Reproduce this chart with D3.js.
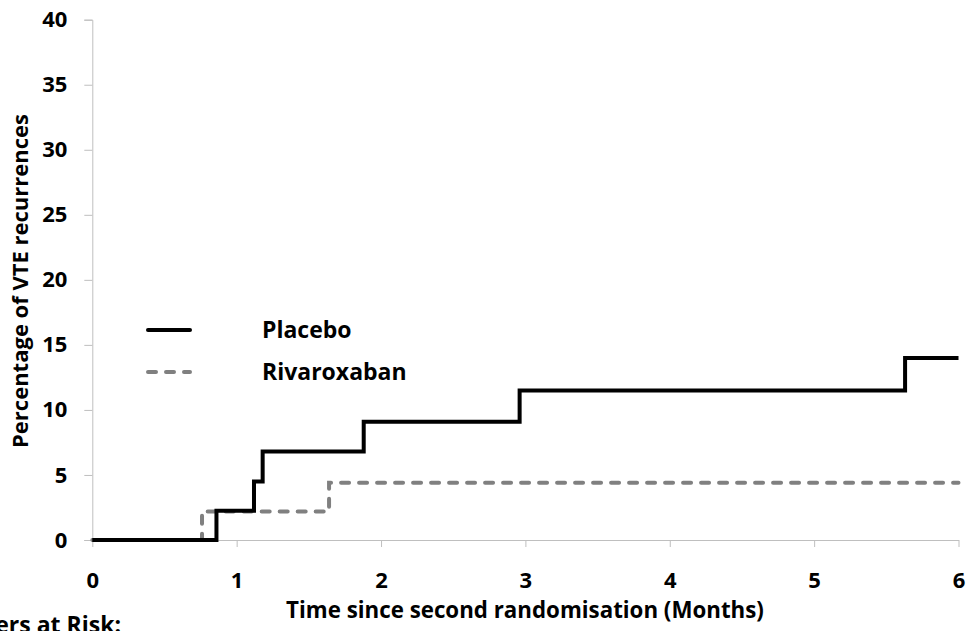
<!DOCTYPE html>
<html>
<head>
<meta charset="utf-8">
<script src="https://cdn.jsdelivr.net/npm/d3@7"></script>
<style>
  html, body { margin: 0; padding: 0; background: #fff; }
  svg { display: block; font-family: "Open Sans", Lato, sans-serif; font-weight: 700; }
</style>
</head>
<body>
<div id="chart"></div>
<script>
// step points: [month, percentage]
const placebo = [[0, 0], [0.86, 2.25], [1.12, 4.5], [1.18, 6.8], [1.88, 9.1], [2.96, 11.5], [5.63, 14.0], [6, 14.0]];
const rivaroxaban = [[0, 0], [0.76, 2.2], [1.64, 4.4], [6, 4.4]];
const xTicks = [0, 1, 2, 3, 4, 5, 6];
const yTicks = [0, 5, 10, 15, 20, 25, 30, 35, 40];
const seriesNames = ["Placebo", "Rivaroxaban"];

const width = 968, height = 631;
const axisColor = "#bfbfbf";
const font = "'Open Sans', Lato, sans-serif";

const svg = d3.select("#chart").append("svg")
    .attr("width", width)
    .attr("height", height);

const x = d3.scaleLinear().domain([0, 6]).range([92.3, 958.5]);
const y = d3.scaleLinear().domain([0, 40]).range([540, 19.7]);

function styleText(sel, size) {
    sel.attr("fill", "#000")
        .style("font-size", size + "px")
        .style("font-family", font)
        .style("font-weight", "700");
}

// y axis
const yAxis = svg.append("g")
    .attr("transform", `translate(${x(0)},0)`)
    .call(d3.axisLeft(y).tickValues(yTicks).tickSize(8).tickPadding(17));
yAxis.select(".domain").attr("stroke", axisColor);
yAxis.selectAll(".tick line").attr("stroke", axisColor);
styleText(yAxis.selectAll(".tick text"), 22);

// x axis
const xAxis = svg.append("g")
    .attr("transform", `translate(0,${y(0)})`)
    .call(d3.axisBottom(x).tickValues(xTicks).tickFormat(d3.format("d"))
        .tickSize(7).tickPadding(25).tickSizeOuter(0));
xAxis.select(".domain").attr("stroke", axisColor);
xAxis.selectAll(".tick line").attr("stroke", axisColor);
styleText(xAxis.selectAll(".tick text"), 22);

// axis titles
styleText(svg.append("text")
    .attr("x", 525).attr("y", 618)
    .attr("text-anchor", "middle")
    .text("Time since second randomisation (Months)"), 22.3);

styleText(svg.append("text")
    .attr("transform", "translate(28,281) rotate(-90)")
    .attr("text-anchor", "middle")
    .text("Percentage of VTE recurrences"), 22);

// partly outside the frame, as in the original
styleText(svg.append("text")
    .attr("x", 121).attr("y", 633)
    .attr("text-anchor", "end")
    .text("Numbers at Risk:"), 23);

// lines
const line = d3.line()
    .x(d => x(d[0]))
    .y(d => y(d[1]))
    .curve(d3.curveStepAfter);

svg.append("path")
    .datum(rivaroxaban)
    .attr("fill", "none")
    .attr("stroke", "#808080")
    .attr("stroke-width", 4)
    .attr("stroke-dasharray", "8,10")
    .attr("stroke-linecap", "round")
    .attr("d", line);

svg.append("path")
    .datum(placebo)
    .attr("fill", "none")
    .attr("stroke", "#000")
    .attr("stroke-width", 4)
    .attr("d", line);

// legend
const legend = svg.append("g");
const legendY = [330, 372];
seriesNames.forEach((name, i) => {
    legend.append("line")
        .attr("x1", 148).attr("x2", 190)
        .attr("y1", legendY[i]).attr("y2", legendY[i])
        .attr("stroke", i === 0 ? "#000" : "#808080")
        .attr("stroke-width", 4)
        .attr("stroke-linecap", "round")
        .attr("stroke-dasharray", i === 0 ? null : "8,10");
    styleText(legend.append("text")
        .attr("x", 262).attr("y", legendY[i] + 8)
        .text(name), 23);
});
</script>
</body>
</html>
